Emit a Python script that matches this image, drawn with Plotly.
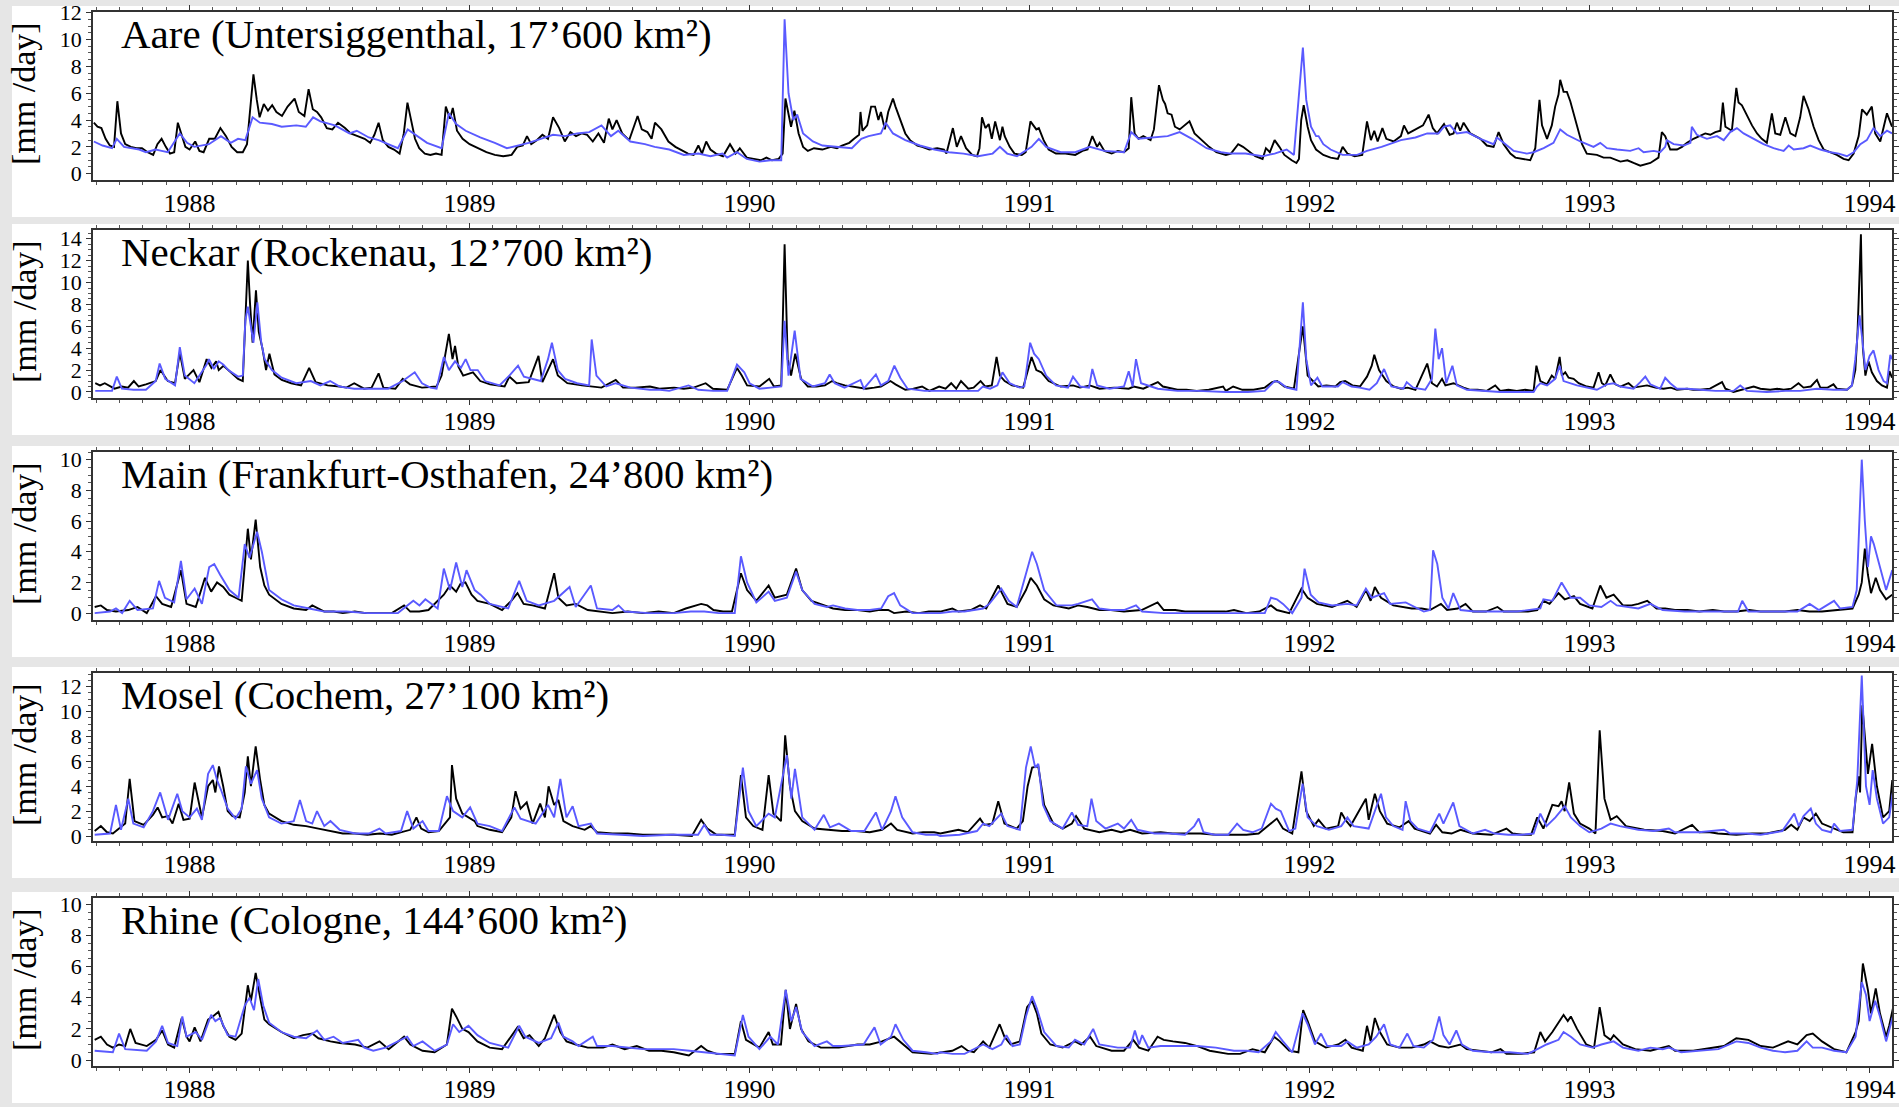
import plotly.graph_objects as go

# ---------------- data (decimal year, mm/day) ----------------
aare_obs = [(1987.658,3.8),(1987.671,3.5),(1987.685,3.4),(1987.700,2.6),(1987.715,2.1),(1987.730,2.0),(1987.742,5.4),(1987.755,3.0),(1987.770,2.2),(1987.790,2.0),(1987.810,1.9),(1987.830,1.9),(1987.850,1.6),(1987.870,1.4),(1987.885,2.2),(1987.900,2.6),(1987.915,2.0),(1987.930,1.5),(1987.945,1.6),(1987.958,3.8),(1987.970,3.0),(1987.985,2.0),(1988.000,1.8),(1988.020,2.4),(1988.035,1.7),(1988.050,1.6),(1988.070,2.6),(1988.090,2.6),(1988.110,3.4),(1988.130,2.8),(1988.150,2.0),(1988.170,1.6),(1988.190,1.6),(1988.205,2.2),(1988.215,4.5),(1988.228,7.4),(1988.240,5.5),(1988.250,4.2),(1988.265,5.2),(1988.280,4.7),(1988.295,5.1),(1988.310,4.6),(1988.330,4.3),(1988.350,5.0),(1988.375,5.6),(1988.390,4.6),(1988.410,4.3),(1988.425,6.3),(1988.440,4.8),(1988.455,4.6),(1988.470,4.2),(1988.490,3.4),(1988.510,3.3),(1988.530,3.8),(1988.555,3.4),(1988.575,3.0),(1988.600,2.8),(1988.625,2.6),(1988.645,2.3),(1988.660,2.9),(1988.675,3.8),(1988.690,2.5),(1988.710,2.0),(1988.730,1.8),(1988.750,1.5),(1988.765,3.0),(1988.778,5.3),(1988.790,4.0),(1988.805,2.6),(1988.820,1.9),(1988.840,1.5),(1988.860,1.4),(1988.880,1.5),(1988.900,1.4),(1988.915,5.0),(1988.930,4.1),(1988.940,4.9),(1988.955,3.2),(1988.975,2.6),(1989.000,2.2),(1989.030,1.9),(1989.060,1.6),(1989.090,1.4),(1989.120,1.3),(1989.150,1.4),(1989.170,2.0),(1989.190,2.1),(1989.205,2.8),(1989.220,2.2),(1989.240,2.5),(1989.260,2.9),(1989.280,2.6),(1989.298,4.2),(1989.320,3.4),(1989.340,2.4),(1989.360,3.1),(1989.380,2.8),(1989.400,3.0),(1989.420,2.9),(1989.440,2.4),(1989.460,3.0),(1989.480,2.3),(1989.497,4.1),(1989.510,3.3),(1989.525,4.0),(1989.545,3.0),(1989.570,2.5),(1989.585,3.4),(1989.600,4.3),(1989.615,3.3),(1989.635,3.1),(1989.650,2.6),(1989.662,3.8),(1989.685,3.3),(1989.710,2.4),(1989.735,2.0),(1989.760,1.7),(1989.780,1.5),(1989.800,1.4),(1989.817,2.1),(1989.830,1.5),(1989.845,2.4),(1989.860,1.8),(1989.880,1.5),(1989.905,1.3),(1989.930,2.2),(1989.950,1.5),(1989.965,1.9),(1989.990,1.2),(1990.017,1.1),(1990.040,1.0),(1990.060,1.2),(1990.080,1.0),(1990.104,1.1),(1990.118,1.5),(1990.128,5.6),(1990.139,4.5),(1990.148,3.5),(1990.160,4.7),(1990.175,3.0),(1990.191,2.0),(1990.208,1.7),(1990.230,1.9),(1990.260,1.8),(1990.290,2.0),(1990.312,1.9),(1990.330,2.1),(1990.356,2.3),(1990.373,2.6),(1990.391,2.9),(1990.396,4.6),(1990.403,3.2),(1990.420,3.6),(1990.434,5.0),(1990.448,5.0),(1990.460,4.0),(1990.469,4.6),(1990.483,3.3),(1990.495,4.6),(1990.512,5.6),(1990.521,5.0),(1990.538,4.0),(1990.556,3.0),(1990.573,2.5),(1990.599,2.1),(1990.616,2.0),(1990.642,1.8),(1990.670,1.9),(1990.694,1.8),(1990.703,1.5),(1990.726,3.4),(1990.740,2.0),(1990.755,2.8),(1990.773,1.9),(1990.795,1.4),(1990.812,1.3),(1990.821,1.9),(1990.830,4.2),(1990.842,3.4),(1990.854,3.7),(1990.865,2.6),(1990.877,3.9),(1990.894,2.5),(1990.903,3.5),(1990.911,2.8),(1990.929,2.0),(1990.946,1.5),(1990.972,1.4),(1990.986,1.6),(1991.003,3.9),(1991.024,3.3),(1991.033,3.4),(1991.050,2.5),(1991.068,1.8),(1991.094,1.5),(1991.128,1.5),(1991.163,1.4),(1991.189,1.7),(1991.207,1.8),(1991.224,2.8),(1991.241,2.0),(1991.250,2.3),(1991.267,1.7),(1991.293,1.5),(1991.315,1.7),(1991.337,1.6),(1991.354,1.9),(1991.363,5.7),(1991.375,3.0),(1991.389,2.6),(1991.406,2.8),(1991.432,2.5),(1991.444,3.3),(1991.462,6.6),(1991.476,5.5),(1991.484,5.2),(1991.493,4.5),(1991.507,4.4),(1991.519,3.5),(1991.536,3.3),(1991.554,3.6),(1991.571,3.9),(1991.589,3.0),(1991.615,2.5),(1991.641,2.0),(1991.667,1.6),(1991.701,1.4),(1991.719,1.5),(1991.745,2.2),(1991.762,2.0),(1991.788,1.6),(1991.806,1.3),(1991.832,1.1),(1991.844,1.9),(1991.858,1.6),(1991.875,2.5),(1991.892,2.0),(1991.910,1.4),(1991.936,1.0),(1991.953,0.8),(1991.962,1.1),(1991.970,4.0),(1991.979,5.1),(1991.993,3.5),(1992.005,2.5),(1992.023,1.8),(1992.049,1.4),(1992.075,1.2),(1992.101,1.1),(1992.118,2.0),(1992.135,1.5),(1992.161,1.3),(1992.188,1.4),(1992.205,3.9),(1992.219,2.5),(1992.231,3.2),(1992.243,2.4),(1992.260,3.4),(1992.274,2.6),(1992.300,2.4),(1992.326,2.8),(1992.337,3.6),(1992.352,3.0),(1992.378,3.3),(1992.405,3.6),(1992.425,4.4),(1992.440,3.4),(1992.455,3.0),(1992.480,3.7),(1992.500,2.9),(1992.514,3.0),(1992.526,3.8),(1992.538,3.2),(1992.550,3.8),(1992.574,3.0),(1992.610,2.6),(1992.633,2.1),(1992.657,2.0),(1992.675,3.1),(1992.693,2.2),(1992.717,1.5),(1992.735,1.2),(1992.764,1.1),(1992.788,1.0),(1992.806,1.9),(1992.821,5.5),(1992.830,3.6),(1992.848,2.6),(1992.865,3.6),(1992.877,5.0),(1992.889,5.9),(1992.895,7.0),(1992.907,6.1),(1992.919,6.1),(1992.931,5.4),(1992.943,4.5),(1992.955,3.4),(1992.973,2.2),(1992.990,1.5),(1993.026,1.4),(1993.050,1.2),(1993.074,1.2),(1993.110,0.9),(1993.135,1.0),(1993.157,0.8),(1993.181,0.6),(1993.217,0.8),(1993.246,1.2),(1993.258,3.1),(1993.270,2.8),(1993.288,1.8),(1993.312,1.8),(1993.330,2.0),(1993.348,2.3),(1993.371,2.6),(1993.395,2.8),(1993.413,3.0),(1993.431,2.9),(1993.449,3.1),(1993.467,3.2),(1993.476,5.3),(1993.485,3.5),(1993.508,3.2),(1993.524,6.4),(1993.532,5.3),(1993.544,5.1),(1993.562,4.3),(1993.580,3.6),(1993.598,3.0),(1993.615,2.6),(1993.633,2.3),(1993.651,4.5),(1993.663,3.0),(1993.681,2.9),(1993.699,4.2),(1993.717,3.0),(1993.735,2.8),(1993.752,4.2),(1993.764,5.8),(1993.782,4.8),(1993.800,3.5),(1993.818,2.5),(1993.836,1.8),(1993.860,1.6),(1993.883,1.4),(1993.907,1.1),(1993.925,1.0),(1993.943,1.5),(1993.961,2.8),(1993.973,4.8),(1993.990,4.4),(1994.008,5.0),(1994.020,3.0),(1994.038,2.4),(1994.062,4.5),(1994.080,3.5)]

aare_sim = [(1987.658,2.4),(1987.689,2.1),(1987.723,1.9),(1987.740,2.6),(1987.766,2.0),(1987.792,1.9),(1987.820,1.8),(1987.844,1.6),(1987.879,1.8),(1987.900,1.7),(1987.922,1.6),(1987.965,3.0),(1987.991,2.3),(1988.017,2.0),(1988.045,2.1),(1988.069,2.2),(1988.112,2.8),(1988.147,2.3),(1988.173,2.6),(1988.199,2.5),(1988.225,4.2),(1988.251,3.8),(1988.294,3.7),(1988.329,3.5),(1988.381,3.6),(1988.415,3.5),(1988.441,4.2),(1988.467,3.9),(1988.519,3.6),(1988.571,3.0),(1988.597,3.2),(1988.640,2.7),(1988.675,2.5),(1988.709,2.2),(1988.744,1.9),(1988.779,3.3),(1988.813,2.8),(1988.848,2.3),(1988.900,1.9),(1988.926,4.5),(1988.952,3.7),(1988.986,3.2),(1989.038,2.7),(1989.090,2.3),(1989.133,1.9),(1989.176,2.1),(1989.211,2.3),(1989.254,2.6),(1989.298,2.9),(1989.341,2.8),(1989.384,3.0),(1989.427,3.1),(1989.471,3.6),(1989.505,2.8),(1989.531,3.2),(1989.574,2.4),(1989.626,2.2),(1989.661,2.0),(1989.713,1.8),(1989.765,1.4),(1989.817,1.5),(1989.860,1.3),(1989.903,1.5),(1989.920,1.2),(1989.955,1.6),(1989.990,1.1),(1990.035,0.9),(1990.075,1.0),(1990.113,1.0),(1990.125,11.5),(1990.139,6.0),(1990.156,4.0),(1990.170,4.4),(1990.191,3.0),(1990.226,2.4),(1990.260,2.1),(1990.312,2.0),(1990.365,1.9),(1990.399,2.6),(1990.425,2.8),(1990.469,3.0),(1990.486,3.8),(1990.512,3.0),(1990.556,2.5),(1990.608,2.1),(1990.660,1.8),(1990.712,1.6),(1990.764,1.5),(1990.816,1.3),(1990.868,1.5),(1990.894,2.0),(1990.920,1.5),(1990.955,1.3),(1991.007,2.0),(1991.033,2.6),(1991.059,2.0),(1991.111,1.6),(1991.163,1.6),(1991.215,2.0),(1991.267,1.7),(1991.337,1.6),(1991.363,3.1),(1991.389,2.6),(1991.441,2.7),(1991.493,2.8),(1991.536,3.1),(1991.580,2.6),(1991.632,1.9),(1991.684,1.6),(1991.719,1.5),(1991.771,1.5),(1991.832,1.3),(1991.875,1.5),(1991.918,1.8),(1991.944,1.4),(1991.976,9.4),(1991.988,5.5),(1992.005,3.5),(1992.023,2.8),(1992.032,2.8),(1992.049,2.2),(1992.075,1.8),(1992.118,1.4),(1992.170,1.4),(1992.205,1.7),(1992.257,2.0),(1992.326,2.5),(1992.378,2.7),(1992.420,3.0),(1992.460,3.0),(1992.480,3.5),(1992.502,3.6),(1992.526,3.0),(1992.562,3.1),(1992.610,2.6),(1992.657,2.2),(1992.669,2.7),(1992.693,2.3),(1992.729,1.7),(1992.776,1.5),(1992.800,1.6),(1992.836,1.9),(1992.871,2.3),(1992.895,3.3),(1992.919,2.9),(1992.967,2.4),(1993.014,2.0),(1993.038,2.3),(1993.062,1.9),(1993.098,1.8),(1993.145,1.7),(1993.175,1.9),(1993.193,1.6),(1993.229,1.7),(1993.252,1.6),(1993.270,2.0),(1993.276,2.5),(1993.300,2.2),(1993.336,2.1),(1993.360,2.3),(1993.365,3.5),(1993.383,2.9),(1993.419,2.6),(1993.455,2.8),(1993.479,2.5),(1993.502,3.1),(1993.526,3.4),(1993.550,3.0),(1993.586,2.6),(1993.621,2.2),(1993.657,1.9),(1993.693,1.7),(1993.711,2.1),(1993.729,1.8),(1993.764,1.9),(1993.788,2.1),(1993.824,1.8),(1993.860,1.6),(1993.890,1.5),(1993.919,1.3),(1993.943,1.6),(1993.967,2.2),(1993.990,2.5),(1994.014,3.4),(1994.038,2.8),(1994.062,3.2),(1994.080,3.0)]

neckar_obs = [(1987.663,0.8),(1987.680,0.6),(1987.697,0.8),(1987.732,0.3),(1987.758,0.5),(1987.780,0.4),(1987.801,1.0),(1987.818,0.5),(1987.844,0.7),(1987.879,1.0),(1987.896,2.0),(1987.922,1.0),(1987.948,0.8),(1987.965,3.6),(1987.983,1.2),(1988.014,2.0),(1988.035,0.9),(1988.061,3.0),(1988.078,2.2),(1988.095,2.8),(1988.104,2.0),(1988.121,2.4),(1988.147,1.8),(1988.173,1.2),(1988.190,1.0),(1988.199,7.0),(1988.208,12.0),(1988.216,8.0),(1988.225,4.5),(1988.237,9.3),(1988.247,5.5),(1988.260,4.0),(1988.273,2.0),(1988.285,3.5),(1988.303,1.6),(1988.329,1.1),(1988.363,0.8),(1988.398,0.6),(1988.427,2.2),(1988.450,0.9),(1988.493,0.6),(1988.536,0.5),(1988.560,0.4),(1988.588,0.8),(1988.623,0.3),(1988.650,0.4),(1988.675,1.7),(1988.692,0.4),(1988.735,0.3),(1988.761,1.2),(1988.787,0.7),(1988.830,0.4),(1988.882,0.5),(1988.900,1.5),(1988.926,5.3),(1988.939,3.0),(1988.948,4.2),(1988.960,2.3),(1988.977,1.5),(1989.012,1.8),(1989.038,1.0),(1989.073,0.7),(1989.100,0.6),(1989.125,0.5),(1989.142,1.4),(1989.168,0.8),(1989.211,0.9),(1989.246,3.3),(1989.260,0.9),(1989.289,2.5),(1989.298,3.0),(1989.315,1.5),(1989.349,0.8),(1989.401,0.6),(1989.440,0.5),(1989.471,0.4),(1989.522,1.1),(1989.548,0.4),(1989.592,0.4),(1989.644,0.5),(1989.678,0.3),(1989.730,0.4),(1989.765,0.3),(1989.800,0.4),(1989.843,0.8),(1989.869,0.3),(1989.920,0.2),(1989.955,2.2),(1989.972,1.5),(1989.991,0.6),(1990.035,0.5),(1990.070,1.2),(1990.087,0.5),(1990.113,0.6),(1990.125,13.5),(1990.136,3.0),(1990.148,1.5),(1990.163,3.5),(1990.184,1.2),(1990.208,0.5),(1990.240,0.5),(1990.269,0.6),(1990.295,1.0),(1990.312,0.8),(1990.340,0.6),(1990.365,0.5),(1990.390,0.4),(1990.416,0.3),(1990.445,0.4),(1990.469,0.5),(1990.503,1.0),(1990.521,0.7),(1990.556,0.2),(1990.585,0.3),(1990.616,0.5),(1990.642,0.1),(1990.677,0.5),(1990.700,0.3),(1990.720,0.8),(1990.738,0.3),(1990.755,1.0),(1990.781,0.3),(1990.800,0.4),(1990.825,1.0),(1990.842,0.5),(1990.865,0.6),(1990.882,3.2),(1990.894,1.5),(1990.911,1.0),(1990.937,0.6),(1990.977,0.4),(1990.998,2.5),(1991.007,3.2),(1991.024,2.0),(1991.042,1.8),(1991.068,1.0),(1991.111,0.5),(1991.155,0.6),(1991.180,0.4),(1991.215,0.6),(1991.250,0.3),(1991.302,0.4),(1991.354,0.3),(1991.372,0.5),(1991.406,0.3),(1991.458,0.9),(1991.476,0.5),(1991.528,0.2),(1991.560,0.2),(1991.597,0.1),(1991.640,0.2),(1991.691,0.5),(1991.701,0.1),(1991.727,0.5),(1991.760,0.2),(1991.800,0.2),(1991.840,0.4),(1991.866,0.9),(1991.884,1.0),(1991.910,0.5),(1991.944,0.3),(1991.976,6.0),(1991.993,1.5),(1992.031,0.5),(1992.060,0.6),(1992.092,0.5),(1992.109,0.9),(1992.127,1.0),(1992.153,0.6),(1992.180,0.5),(1992.205,1.4),(1992.222,2.4),(1992.231,3.4),(1992.248,2.0),(1992.274,1.0),(1992.300,0.5),(1992.326,0.3),(1992.350,0.4),(1992.378,0.2),(1992.420,2.6),(1992.437,0.8),(1992.455,0.5),(1992.473,1.2),(1992.485,0.6),(1992.514,0.8),(1992.550,0.4),(1992.574,0.2),(1992.600,0.2),(1992.633,0.1),(1992.663,0.6),(1992.681,0.1),(1992.710,0.2),(1992.740,0.1),(1992.770,0.2),(1992.800,0.1),(1992.810,2.4),(1992.824,1.0),(1992.848,0.7),(1992.865,1.5),(1992.877,1.2),(1992.893,3.2),(1992.901,1.5),(1992.913,1.8),(1992.925,1.3),(1992.943,1.2),(1992.961,0.8),(1992.990,0.5),(1993.014,0.4),(1993.032,1.8),(1993.044,0.8),(1993.056,0.6),(1993.074,1.6),(1993.092,0.7),(1993.110,0.5),(1993.139,0.8),(1993.157,0.4),(1993.180,0.5),(1993.205,0.6),(1993.235,0.4),(1993.264,0.3),(1993.290,0.4),(1993.312,0.2),(1993.348,0.3),(1993.370,0.2),(1993.395,0.2),(1993.430,0.3),(1993.473,0.9),(1993.485,0.3),(1993.514,0.0),(1993.540,0.2),(1993.568,0.4),(1993.586,0.5),(1993.610,0.3),(1993.645,0.2),(1993.670,0.3),(1993.693,0.2),(1993.720,0.3),(1993.746,0.8),(1993.764,0.4),(1993.790,0.5),(1993.812,1.1),(1993.824,0.4),(1993.850,0.4),(1993.871,0.7),(1993.883,0.3),(1993.919,0.2),(1993.937,0.6),(1993.949,2.0),(1993.957,5.5),(1993.969,14.4),(1993.976,4.0),(1993.985,1.5),(1993.996,2.8),(1994.008,1.8),(1994.026,1.0),(1994.044,0.6),(1994.062,0.4),(1994.071,1.9),(1994.080,1.3)]

neckar_sim = [(1987.663,0.1),(1987.723,0.1),(1987.740,1.4),(1987.758,0.3),(1987.800,0.2),(1987.844,0.2),(1987.879,1.0),(1987.893,2.6),(1987.913,1.2),(1987.948,0.6),(1987.965,4.1),(1987.983,1.5),(1988.017,0.8),(1988.061,2.5),(1988.069,3.0),(1988.087,2.1),(1988.104,2.8),(1988.121,2.5),(1988.138,2.0),(1988.173,1.4),(1988.190,1.5),(1988.199,6.5),(1988.208,7.8),(1988.220,6.0),(1988.228,4.5),(1988.242,8.2),(1988.256,4.5),(1988.268,3.0),(1988.294,2.0),(1988.329,1.3),(1988.381,0.8),(1988.433,1.0),(1988.467,0.6),(1988.502,1.0),(1988.536,0.5),(1988.560,0.4),(1988.588,0.3),(1988.620,0.3),(1988.657,0.3),(1988.709,0.3),(1988.761,1.0),(1988.804,1.8),(1988.830,0.8),(1988.860,0.4),(1988.882,0.3),(1988.908,3.2),(1988.926,2.0),(1988.948,2.8),(1988.969,2.2),(1988.986,3.0),(1989.003,2.0),(1989.029,2.0),(1989.055,1.0),(1989.107,0.6),(1989.142,1.5),(1989.173,2.4),(1989.194,1.4),(1989.228,1.2),(1989.254,1.0),(1989.280,3.0),(1989.294,4.5),(1989.315,2.0),(1989.341,1.2),(1989.384,0.8),(1989.427,0.6),(1989.436,4.8),(1989.453,1.5),(1989.488,0.5),(1989.522,0.8),(1989.574,0.4),(1989.610,0.3),(1989.644,0.2),(1989.680,0.2),(1989.713,0.1),(1989.782,0.6),(1989.817,0.2),(1989.870,0.1),(1989.920,0.1),(1989.955,2.5),(1989.981,1.8),(1990.000,0.8),(1990.035,0.3),(1990.075,0.4),(1990.113,0.5),(1990.125,6.5),(1990.139,1.5),(1990.161,5.6),(1990.182,1.2),(1990.226,0.5),(1990.269,0.8),(1990.286,1.6),(1990.304,0.8),(1990.339,0.4),(1990.396,1.1),(1990.408,0.3),(1990.451,1.6),(1990.469,0.6),(1990.495,1.0),(1990.517,2.4),(1990.538,1.3),(1990.564,0.3),(1990.625,0.1),(1990.670,0.1),(1990.712,0.1),(1990.760,0.1),(1990.816,0.1),(1990.833,0.5),(1990.859,0.3),(1990.885,0.6),(1990.903,1.8),(1990.929,0.8),(1990.964,0.4),(1990.981,0.5),(1991.002,4.5),(1991.016,3.5),(1991.033,3.0),(1991.059,1.5),(1991.094,0.6),(1991.137,0.4),(1991.155,1.4),(1991.181,0.5),(1991.212,0.4),(1991.224,2.1),(1991.241,0.6),(1991.285,0.3),(1991.337,0.5),(1991.354,1.9),(1991.368,0.5),(1991.380,3.0),(1991.398,0.8),(1991.458,0.3),(1991.528,0.1),(1991.600,0.1),(1991.701,0.0),(1991.780,0.0),(1991.840,0.1),(1991.875,1.0),(1991.892,0.9),(1991.918,0.4),(1991.953,0.2),(1991.976,8.2),(1991.988,3.0),(1992.005,0.6),(1992.028,1.3),(1992.045,0.5),(1992.101,0.5),(1992.118,0.9),(1992.150,0.5),(1992.179,0.4),(1992.214,0.2),(1992.240,0.8),(1992.266,2.1),(1992.292,0.5),(1992.335,0.3),(1992.347,0.9),(1992.370,0.4),(1992.413,0.2),(1992.437,1.2),(1992.449,5.8),(1992.461,3.0),(1992.473,4.0),(1992.488,0.8),(1992.510,2.4),(1992.526,0.6),(1992.562,0.2),(1992.620,0.1),(1992.681,0.0),(1992.740,0.0),(1992.800,0.0),(1992.812,0.5),(1992.824,0.8),(1992.848,0.6),(1992.877,1.2),(1992.893,2.4),(1992.907,1.0),(1992.955,0.6),(1992.990,0.4),(1993.026,0.2),(1993.062,0.7),(1993.086,0.8),(1993.110,0.5),(1993.157,0.3),(1993.181,0.9),(1993.199,1.4),(1993.217,0.7),(1993.252,0.3),(1993.270,1.3),(1993.288,0.8),(1993.312,0.3),(1993.350,0.3),(1993.395,0.2),(1993.450,0.1),(1993.514,0.1),(1993.538,0.6),(1993.562,0.1),(1993.633,0.0),(1993.700,0.1),(1993.752,0.1),(1993.812,0.3),(1993.871,0.2),(1993.919,0.2),(1993.937,0.6),(1993.949,3.0),(1993.964,7.0),(1993.973,5.0),(1993.985,2.0),(1994.000,3.3),(1994.014,3.8),(1994.032,2.0),(1994.050,1.0),(1994.062,0.8),(1994.074,3.4),(1994.080,3.0)]

main_obs = [(1987.661,0.4),(1987.683,0.5),(1987.705,0.2),(1987.737,0.1),(1987.781,0.2),(1987.814,0.4),(1987.847,0.0),(1987.880,1.1),(1987.902,0.6),(1987.934,0.4),(1987.969,2.8),(1987.989,0.6),(1988.022,0.4),(1988.055,2.3),(1988.077,1.4),(1988.098,2.0),(1988.120,1.7),(1988.142,1.2),(1988.164,1.0),(1988.186,0.8),(1988.208,5.5),(1988.219,3.5),(1988.236,6.1),(1988.252,3.0),(1988.267,1.8),(1988.284,1.2),(1988.328,0.6),(1988.372,0.3),(1988.416,0.2),(1988.438,0.5),(1988.481,0.1),(1988.515,0.1),(1988.547,0.0),(1988.590,0.1),(1988.630,0.0),(1988.678,0.0),(1988.722,0.0),(1988.766,0.5),(1988.788,0.1),(1988.820,0.1),(1988.853,0.2),(1988.908,1.2),(1988.930,1.8),(1988.952,1.4),(1988.967,1.9),(1988.985,2.0),(1989.007,1.2),(1989.028,0.8),(1989.072,0.6),(1989.116,0.2),(1989.149,0.8),(1989.171,1.3),(1989.193,0.6),(1989.225,0.5),(1989.269,0.3),(1989.302,2.6),(1989.317,1.0),(1989.346,0.5),(1989.379,0.6),(1989.422,0.2),(1989.465,0.1),(1989.510,0.0),(1989.565,0.1),(1989.619,0.0),(1989.675,0.1),(1989.729,0.0),(1989.772,0.3),(1989.827,0.6),(1989.849,0.5),(1989.871,0.2),(1989.905,0.1),(1989.937,0.1),(1989.969,2.6),(1989.991,1.5),(1990.024,0.8),(1990.068,1.8),(1990.090,1.0),(1990.133,1.2),(1990.166,2.9),(1990.188,1.5),(1990.221,0.8),(1990.265,0.5),(1990.298,0.3),(1990.341,0.2),(1990.385,0.2),(1990.429,0.1),(1990.460,0.2),(1990.495,0.2),(1990.516,0.0),(1990.560,0.1),(1990.604,0.0),(1990.640,0.1),(1990.681,0.1),(1990.724,0.3),(1990.746,0.1),(1990.790,0.2),(1990.823,0.5),(1990.845,0.3),(1990.888,1.8),(1990.904,1.2),(1990.921,0.6),(1990.954,0.4),(1990.987,1.5),(1991.004,2.3),(1991.026,1.8),(1991.052,0.9),(1991.085,0.5),(1991.140,0.3),(1991.173,0.5),(1991.206,0.4),(1991.249,0.2),(1991.290,0.2),(1991.337,0.1),(1991.400,0.2),(1991.457,0.7),(1991.479,0.2),(1991.520,0.2),(1991.555,0.1),(1991.600,0.1),(1991.650,0.1),(1991.700,0.1),(1991.730,0.2),(1991.774,0.0),(1991.820,0.1),(1991.862,0.5),(1991.883,0.2),(1991.927,0.0),(1991.971,1.6),(1991.993,1.0),(1992.026,0.6),(1992.080,0.4),(1992.135,0.8),(1992.168,0.4),(1992.201,1.5),(1992.218,0.8),(1992.233,1.7),(1992.255,1.0),(1992.299,0.5),(1992.330,0.4),(1992.365,0.3),(1992.400,0.3),(1992.430,0.2),(1992.469,0.6),(1992.491,0.2),(1992.529,0.3),(1992.557,0.6),(1992.583,0.1),(1992.630,0.1),(1992.671,0.4),(1992.693,0.1),(1992.740,0.1),(1992.780,0.1),(1992.813,0.2),(1992.835,0.8),(1992.857,0.6),(1992.889,1.3),(1992.911,0.9),(1992.944,1.1),(1992.966,0.6),(1993.010,0.3),(1993.038,1.8),(1993.060,1.0),(1993.086,1.2),(1993.119,0.5),(1993.150,0.5),(1993.174,0.6),(1993.206,0.8),(1993.239,0.3),(1993.270,0.3),(1993.305,0.2),(1993.350,0.2),(1993.392,0.1),(1993.440,0.2),(1993.480,0.1),(1993.524,0.1),(1993.570,0.2),(1993.610,0.1),(1993.655,0.1),(1993.698,0.1),(1993.742,0.2),(1993.785,0.1),(1993.830,0.1),(1993.880,0.2),(1993.939,0.3),(1993.961,1.2),(1993.972,2.0),(1993.983,4.2),(1993.994,2.5),(1994.005,1.3),(1994.022,2.3),(1994.037,1.5),(1994.059,0.9),(1994.081,1.2)]

main_sim = [(1987.661,0.0),(1987.716,0.1),(1987.737,0.3),(1987.759,0.0),(1987.786,0.8),(1987.814,0.2),(1987.869,0.3),(1987.891,2.1),(1987.912,1.0),(1987.945,0.7),(1987.969,3.4),(1987.989,0.9),(1988.018,1.6),(1988.044,0.6),(1988.070,3.0),(1988.088,3.2),(1988.109,2.5),(1988.142,1.5),(1988.175,1.0),(1988.197,4.5),(1988.214,3.6),(1988.241,5.3),(1988.258,4.0),(1988.284,1.5),(1988.328,0.9),(1988.372,0.5),(1988.427,0.3),(1988.481,0.1),(1988.560,0.1),(1988.635,0.0),(1988.690,0.0),(1988.744,0.0),(1988.799,0.8),(1988.821,0.5),(1988.842,0.9),(1988.886,0.3),(1988.908,2.9),(1988.930,1.5),(1988.952,3.3),(1988.974,1.7),(1988.989,2.8),(1989.018,1.5),(1989.039,1.2),(1989.072,0.6),(1989.138,0.3),(1989.177,2.1),(1989.204,0.8),(1989.247,0.5),(1989.302,0.8),(1989.357,1.7),(1989.379,0.4),(1989.433,1.8),(1989.455,0.3),(1989.510,0.2),(1989.532,0.5),(1989.554,0.1),(1989.640,0.0),(1989.729,0.0),(1989.790,0.1),(1989.838,0.1),(1989.890,0.0),(1989.947,0.0),(1989.969,3.7),(1989.991,2.0),(1990.024,0.7),(1990.068,1.4),(1990.090,0.8),(1990.133,1.0),(1990.166,2.7),(1990.188,1.5),(1990.232,0.6),(1990.276,0.4),(1990.298,0.5),(1990.341,0.3),(1990.385,0.2),(1990.429,0.2),(1990.470,0.3),(1990.495,1.1),(1990.516,1.3),(1990.538,0.5),(1990.582,0.0),(1990.630,0.0),(1990.681,0.0),(1990.725,0.1),(1990.768,0.1),(1990.834,0.3),(1990.856,0.6),(1990.899,1.6),(1990.926,0.8),(1990.954,0.4),(1990.987,2.5),(1991.009,4.0),(1991.026,3.2),(1991.052,1.5),(1991.096,0.5),(1991.151,0.5),(1991.173,0.6),(1991.223,0.9),(1991.249,0.3),(1991.290,0.2),(1991.337,0.2),(1991.380,0.5),(1991.402,0.1),(1991.480,0.0),(1991.555,0.0),(1991.700,0.0),(1991.840,0.0),(1991.862,1.0),(1991.883,0.9),(1991.905,0.6),(1991.938,0.0),(1991.971,1.0),(1991.982,2.9),(1992.004,1.2),(1992.032,0.7),(1992.080,0.5),(1992.135,0.6),(1992.168,0.5),(1992.201,1.6),(1992.222,1.0),(1992.266,1.3),(1992.288,0.6),(1992.343,0.7),(1992.408,0.1),(1992.430,0.2),(1992.441,4.1),(1992.456,3.2),(1992.474,1.0),(1992.496,0.3),(1992.513,1.3),(1992.539,0.2),(1992.590,0.1),(1992.649,0.1),(1992.740,0.1),(1992.824,0.3),(1992.835,0.9),(1992.867,0.8),(1992.900,2.0),(1992.933,1.0),(1992.966,1.0),(1992.999,0.5),(1993.042,0.4),(1993.075,0.8),(1993.097,0.5),(1993.174,0.3),(1993.217,0.6),(1993.261,0.2),(1993.340,0.1),(1993.414,0.1),(1993.480,0.1),(1993.530,0.1),(1993.545,0.8),(1993.567,0.1),(1993.650,0.1),(1993.742,0.1),(1993.786,0.6),(1993.819,0.2),(1993.873,0.8),(1993.895,0.3),(1993.939,0.4),(1993.954,1.5),(1993.972,10.0),(1993.983,6.0),(1993.994,3.0),(1994.005,5.0),(1994.015,4.5),(1994.037,3.0),(1994.059,1.5),(1994.081,2.8)]

mosel_obs = [(1987.661,0.4),(1987.683,0.8),(1987.705,0.3),(1987.726,0.2),(1987.770,1.0),(1987.786,4.6),(1987.803,1.2),(1987.836,0.9),(1987.869,1.7),(1987.886,2.3),(1987.902,1.5),(1987.923,1.6),(1987.939,1.0),(1987.961,2.6),(1987.978,1.3),(1988.000,1.4),(1988.018,4.3),(1988.033,2.5),(1988.044,1.5),(1988.066,4.0),(1988.083,4.5),(1988.092,3.5),(1988.105,5.6),(1988.120,4.0),(1988.136,2.0),(1988.153,1.6),(1988.179,1.5),(1988.197,3.5),(1988.208,6.4),(1988.219,4.0),(1988.236,7.2),(1988.252,4.5),(1988.267,2.5),(1988.284,1.8),(1988.328,1.2),(1988.372,0.9),(1988.416,0.8),(1988.460,0.6),(1988.503,0.4),(1988.547,0.2),(1988.590,0.2),(1988.635,0.1),(1988.680,0.2),(1988.722,0.1),(1988.788,0.5),(1988.810,1.5),(1988.827,0.6),(1988.853,0.3),(1988.890,0.4),(1988.930,1.5),(1988.937,5.7),(1988.952,3.0),(1988.974,1.8),(1989.018,1.2),(1989.028,0.8),(1989.072,0.5),(1989.116,0.3),(1989.149,1.5),(1989.164,3.6),(1989.182,2.2),(1989.204,2.7),(1989.225,1.0),(1989.252,2.6),(1989.269,1.5),(1989.282,4.0),(1989.302,2.5),(1989.317,2.9),(1989.335,1.2),(1989.368,0.8),(1989.411,0.5),(1989.433,0.8),(1989.455,0.3),(1989.510,0.2),(1989.565,0.2),(1989.619,0.1),(1989.675,0.1),(1989.729,0.1),(1989.794,0.0),(1989.827,1.3),(1989.849,0.6),(1989.882,0.1),(1989.947,0.1),(1989.969,4.9),(1989.987,1.5),(1990.013,0.8),(1990.046,0.5),(1990.068,4.9),(1990.085,1.8),(1990.112,1.2),(1990.127,8.1),(1990.144,4.0),(1990.162,2.0),(1990.188,1.2),(1990.232,0.6),(1990.276,0.5),(1990.330,0.4),(1990.380,0.4),(1990.429,0.3),(1990.473,0.5),(1990.505,1.0),(1990.527,0.5),(1990.582,0.2),(1990.620,0.3),(1990.659,0.3),(1990.681,0.2),(1990.746,0.5),(1990.779,0.3),(1990.823,1.4),(1990.838,0.9),(1990.867,1.0),(1990.888,2.8),(1990.910,1.0),(1990.954,0.6),(1990.976,1.2),(1990.993,4.0),(1991.009,5.5),(1991.031,5.6),(1991.052,2.5),(1991.085,1.0),(1991.118,0.6),(1991.151,1.0),(1991.166,1.6),(1991.195,0.6),(1991.249,0.3),(1991.293,0.5),(1991.326,0.3),(1991.359,0.5),(1991.402,0.2),(1991.468,0.3),(1991.510,0.2),(1991.555,0.2),(1991.610,0.2),(1991.665,0.1),(1991.730,0.1),(1991.775,0.1),(1991.818,0.2),(1991.862,1.0),(1991.883,1.4),(1991.905,0.6),(1991.938,0.2),(1991.971,5.2),(1991.988,2.0),(1992.015,0.8),(1992.032,1.3),(1992.058,0.6),(1992.102,0.8),(1992.113,1.9),(1992.128,1.3),(1992.146,0.8),(1992.201,3.0),(1992.211,1.3),(1992.233,3.4),(1992.251,2.0),(1992.277,1.0),(1992.321,0.7),(1992.354,1.2),(1992.375,0.6),(1992.430,0.2),(1992.452,0.9),(1992.474,0.3),(1992.507,0.2),(1992.539,0.5),(1992.583,0.2),(1992.649,0.1),(1992.703,0.6),(1992.725,0.2),(1992.760,0.1),(1992.791,0.1),(1992.813,1.5),(1992.835,0.6),(1992.867,2.5),(1992.889,2.4),(1992.900,2.8),(1992.911,2.0),(1992.927,4.3),(1992.944,1.8),(1992.966,1.0),(1992.999,0.6),(1993.021,0.2),(1993.036,8.5),(1993.053,3.0),(1993.075,1.3),(1993.097,1.6),(1993.130,0.8),(1993.195,0.5),(1993.261,0.4),(1993.305,0.2),(1993.366,0.9),(1993.392,0.3),(1993.430,0.3),(1993.458,0.2),(1993.524,0.1),(1993.580,0.2),(1993.633,0.2),(1993.698,0.5),(1993.720,0.9),(1993.742,0.5),(1993.764,1.5),(1993.786,1.2),(1993.808,1.8),(1993.830,1.0),(1993.873,0.6),(1993.906,0.3),(1993.939,0.3),(1993.950,3.0),(1993.961,4.8),(1993.966,3.5),(1993.974,10.5),(1993.994,5.0),(1994.009,7.4),(1994.026,4.0),(1994.048,1.5),(1994.070,2.0),(1994.081,4.5)]

mosel_sim = [(1987.661,0.1),(1987.716,0.2),(1987.737,2.5),(1987.755,0.5),(1987.781,3.0),(1987.799,1.0),(1987.836,0.7),(1987.869,2.0),(1987.895,3.5),(1987.923,1.3),(1987.956,3.4),(1987.974,2.0),(1988.000,1.5),(1988.026,2.2),(1988.044,1.3),(1988.066,5.0),(1988.083,5.7),(1988.098,4.5),(1988.114,3.6),(1988.136,2.2),(1988.164,1.4),(1988.186,2.2),(1988.201,5.6),(1988.219,4.2),(1988.241,5.3),(1988.258,3.0),(1988.284,1.5),(1988.328,1.0),(1988.372,1.2),(1988.394,2.9),(1988.416,1.2),(1988.438,1.0),(1988.455,2.0),(1988.481,0.8),(1988.503,1.2),(1988.536,0.5),(1988.591,0.2),(1988.640,0.2),(1988.678,0.6),(1988.700,0.2),(1988.755,0.4),(1988.777,2.0),(1988.799,0.6),(1988.832,1.2),(1988.853,0.4),(1988.890,0.4),(1988.919,3.2),(1988.941,2.0),(1988.974,1.5),(1989.002,2.3),(1989.028,1.0),(1989.072,0.8),(1989.116,0.4),(1989.160,2.3),(1989.182,1.4),(1989.236,1.0),(1989.280,2.5),(1989.302,1.5),(1989.324,4.6),(1989.346,1.5),(1989.368,2.4),(1989.389,0.8),(1989.433,1.0),(1989.455,0.2),(1989.540,0.1),(1989.619,0.0),(1989.720,0.1),(1989.816,0.1),(1989.838,0.9),(1989.860,0.1),(1989.900,0.1),(1989.947,0.0),(1989.976,5.5),(1989.996,2.0),(1990.024,0.8),(1990.068,1.8),(1990.090,1.5),(1990.133,6.5),(1990.149,3.0),(1990.162,5.4),(1990.188,1.5),(1990.232,0.5),(1990.265,1.7),(1990.287,0.7),(1990.319,1.0),(1990.363,0.4),(1990.410,0.4),(1990.451,1.9),(1990.473,0.5),(1990.505,2.0),(1990.521,3.2),(1990.545,1.5),(1990.582,0.3),(1990.630,0.1),(1990.670,0.1),(1990.681,0.0),(1990.750,0.1),(1990.812,0.4),(1990.834,1.0),(1990.856,0.8),(1990.899,1.8),(1990.921,0.8),(1990.965,0.5),(1990.987,5.5),(1991.004,7.2),(1991.020,5.5),(1991.031,5.8),(1991.048,2.5),(1991.074,1.2),(1991.118,0.6),(1991.151,1.9),(1991.173,0.9),(1991.206,0.8),(1991.221,3.0),(1991.238,1.2),(1991.271,0.6),(1991.315,1.0),(1991.337,0.6),(1991.363,1.3),(1991.385,0.5),(1991.446,0.2),(1991.500,0.2),(1991.555,0.1),(1991.588,0.8),(1991.604,1.4),(1991.621,0.3),(1991.660,0.1),(1991.709,0.1),(1991.741,1.0),(1991.763,0.5),(1991.796,0.3),(1991.829,0.6),(1991.862,2.6),(1991.879,2.2),(1991.897,2.0),(1991.927,0.4),(1991.949,0.6),(1991.975,4.2),(1991.993,1.5),(1992.026,0.8),(1992.069,0.5),(1992.113,0.8),(1992.135,1.5),(1992.157,0.8),(1992.211,0.6),(1992.255,3.4),(1992.273,1.5),(1992.299,0.8),(1992.332,0.5),(1992.343,2.8),(1992.360,1.2),(1992.386,0.6),(1992.430,0.3),(1992.463,1.8),(1992.478,1.0),(1992.513,2.7),(1992.535,0.8),(1992.583,0.2),(1992.627,0.5),(1992.660,0.2),(1992.710,0.1),(1992.758,0.1),(1992.800,0.2),(1992.824,1.8),(1992.846,0.8),(1992.878,1.5),(1992.911,2.4),(1992.933,1.5),(1992.966,0.8),(1992.999,0.3),(1993.042,0.6),(1993.075,1.0),(1993.108,0.8),(1993.174,0.5),(1993.230,0.4),(1993.283,0.6),(1993.305,0.3),(1993.390,0.3),(1993.480,0.5),(1993.502,0.2),(1993.560,0.2),(1993.611,0.1),(1993.688,0.4),(1993.731,1.8),(1993.747,0.8),(1993.764,1.6),(1993.790,2.2),(1993.808,1.0),(1993.830,0.5),(1993.862,0.3),(1993.873,1.0),(1993.895,0.4),(1993.939,0.5),(1993.956,4.5),(1993.972,12.9),(1993.987,4.0),(1994.000,2.5),(1994.011,5.3),(1994.026,3.0),(1994.048,1.0),(1994.070,1.5),(1994.083,3.5)]

rhine_obs = [(1987.661,1.3),(1987.683,1.5),(1987.705,1.0),(1987.726,0.8),(1987.748,1.0),(1987.770,0.9),(1987.788,2.0),(1987.807,1.1),(1987.847,0.9),(1987.880,1.3),(1987.902,1.9),(1987.923,1.0),(1987.945,0.8),(1987.972,2.7),(1987.989,1.5),(1988.000,1.2),(1988.018,2.1),(1988.039,1.2),(1988.066,2.6),(1988.083,2.8),(1988.103,3.1),(1988.120,2.2),(1988.142,1.5),(1988.164,1.3),(1988.186,1.7),(1988.208,4.8),(1988.219,3.8),(1988.236,5.6),(1988.252,4.0),(1988.267,2.6),(1988.284,2.3),(1988.328,1.8),(1988.372,1.4),(1988.405,1.6),(1988.438,1.7),(1988.460,1.4),(1988.503,1.2),(1988.536,1.1),(1988.591,1.0),(1988.635,0.8),(1988.678,1.2),(1988.711,0.7),(1988.766,1.5),(1988.788,1.0),(1988.832,0.6),(1988.875,0.5),(1988.919,1.0),(1988.937,3.3),(1988.952,2.8),(1988.974,2.0),(1988.996,1.8),(1989.028,1.2),(1989.072,0.8),(1989.116,0.7),(1989.171,2.1),(1989.193,1.4),(1989.214,1.6),(1989.247,0.9),(1989.269,1.4),(1989.302,2.9),(1989.324,1.8),(1989.346,1.2),(1989.379,1.0),(1989.422,0.8),(1989.477,0.8),(1989.510,1.0),(1989.554,0.7),(1989.597,0.9),(1989.641,0.6),(1989.685,0.6),(1989.729,0.5),(1989.783,0.3),(1989.827,0.9),(1989.849,0.6),(1989.882,0.4),(1989.947,0.4),(1989.969,2.5),(1989.987,1.3),(1990.035,0.8),(1990.068,1.8),(1990.083,1.0),(1990.112,1.0),(1990.129,4.5),(1990.144,2.0),(1990.166,3.6),(1990.184,2.0),(1990.210,1.2),(1990.254,0.8),(1990.319,0.8),(1990.385,1.0),(1990.429,1.0),(1990.473,1.2),(1990.516,1.5),(1990.549,1.0),(1990.582,0.5),(1990.648,0.4),(1990.681,0.5),(1990.724,0.6),(1990.757,0.9),(1990.779,0.6),(1990.801,0.5),(1990.834,1.2),(1990.856,0.8),(1990.893,2.3),(1990.910,1.5),(1990.932,1.0),(1990.965,1.2),(1990.991,3.4),(1991.009,3.8),(1991.026,3.0),(1991.042,1.7),(1991.074,1.0),(1991.118,0.8),(1991.162,1.2),(1991.184,1.0),(1991.216,1.5),(1991.238,0.9),(1991.293,0.6),(1991.337,0.6),(1991.370,1.3),(1991.391,0.8),(1991.424,0.6),(1991.457,1.5),(1991.479,1.3),(1991.512,1.2),(1991.555,1.1),(1991.599,0.9),(1991.643,0.6),(1991.709,0.4),(1991.752,0.4),(1991.796,0.7),(1991.840,0.5),(1991.873,1.5),(1991.894,1.2),(1991.927,0.6),(1991.960,0.5),(1991.977,3.2),(1991.993,2.5),(1992.019,1.2),(1992.058,0.8),(1992.102,1.0),(1992.128,1.3),(1992.150,0.8),(1992.190,0.6),(1992.205,2.2),(1992.218,1.2),(1992.233,2.7),(1992.251,1.8),(1992.277,1.0),(1992.321,0.8),(1992.365,0.8),(1992.408,1.0),(1992.430,1.2),(1992.463,0.9),(1992.496,0.8),(1992.539,1.0),(1992.561,0.7),(1992.605,0.6),(1992.649,0.5),(1992.682,0.7),(1992.703,0.4),(1992.758,0.4),(1992.802,0.5),(1992.824,1.8),(1992.841,1.2),(1992.867,1.8),(1992.889,2.4),(1992.907,2.9),(1992.922,2.5),(1992.933,2.8),(1992.955,2.0),(1992.988,1.0),(1993.016,0.8),(1993.036,3.4),(1993.053,1.6),(1993.075,1.3),(1993.086,1.6),(1993.119,1.0),(1993.163,0.7),(1993.217,0.6),(1993.283,0.9),(1993.305,0.6),(1993.370,0.6),(1993.436,0.8),(1993.480,0.9),(1993.524,1.4),(1993.567,1.3),(1993.611,0.9),(1993.655,0.8),(1993.709,1.2),(1993.742,1.0),(1993.775,1.6),(1993.797,1.7),(1993.830,1.2),(1993.873,0.7),(1993.917,0.5),(1993.950,1.8),(1993.961,2.5),(1993.976,6.2),(1993.994,4.5),(1994.005,3.0),(1994.022,4.6),(1994.037,3.0),(1994.059,1.5),(1994.070,2.2),(1994.083,3.3)]

rhine_sim = [(1987.661,0.6),(1987.726,0.5),(1987.748,1.7),(1987.770,0.7),(1987.847,0.6),(1987.880,1.2),(1987.902,2.2),(1987.923,1.1),(1987.956,0.9),(1987.974,2.8),(1987.989,1.5),(1988.022,1.8),(1988.044,1.3),(1988.077,2.9),(1988.092,2.5),(1988.109,2.7),(1988.136,1.6),(1988.164,1.5),(1988.197,3.5),(1988.214,4.0),(1988.230,3.2),(1988.245,5.2),(1988.263,3.5),(1988.284,2.4),(1988.328,1.8),(1988.372,1.5),(1988.416,1.4),(1988.455,1.9),(1988.481,1.3),(1988.514,1.5),(1988.547,1.1),(1988.602,1.3),(1988.624,0.8),(1988.656,0.6),(1988.700,0.8),(1988.777,1.5),(1988.799,0.9),(1988.832,1.2),(1988.875,0.6),(1988.919,1.0),(1988.941,2.3),(1988.963,1.8),(1988.996,2.2),(1989.028,1.6),(1989.072,1.1),(1989.138,0.8),(1989.177,2.2),(1989.199,1.5),(1989.247,1.1),(1989.291,1.4),(1989.317,2.4),(1989.335,1.5),(1989.368,1.2),(1989.389,0.9),(1989.440,1.5),(1989.455,0.9),(1989.510,0.9),(1989.565,0.8),(1989.619,0.7),(1989.675,0.7),(1989.729,0.7),(1989.785,0.6),(1989.838,0.5),(1989.890,0.4),(1989.947,0.3),(1989.976,2.9),(1989.996,1.5),(1990.035,0.7),(1990.074,1.5),(1990.101,1.0),(1990.129,4.5),(1990.149,2.5),(1990.166,3.4),(1990.188,1.8),(1990.232,0.9),(1990.276,1.2),(1990.298,0.9),(1990.330,0.9),(1990.407,1.0),(1990.446,2.1),(1990.468,1.0),(1990.505,1.5),(1990.521,2.3),(1990.549,1.3),(1990.582,0.6),(1990.630,0.5),(1990.670,0.4),(1990.681,0.5),(1990.725,0.4),(1990.768,0.4),(1990.834,1.0),(1990.867,0.7),(1990.899,1.0),(1990.917,1.6),(1990.939,0.9),(1990.965,1.0),(1990.987,2.8),(1991.009,4.1),(1991.026,3.3),(1991.052,1.8),(1991.096,0.9),(1991.140,0.8),(1991.162,1.3),(1991.195,1.0),(1991.227,2.0),(1991.249,1.0),(1991.315,0.8),(1991.359,0.8),(1991.376,1.9),(1991.391,1.0),(1991.402,1.6),(1991.424,0.8),(1991.468,0.9),(1991.555,0.9),(1991.599,0.9),(1991.665,0.8),(1991.730,0.6),(1991.775,0.6),(1991.818,0.5),(1991.862,1.2),(1991.879,1.8),(1991.905,1.2),(1991.938,0.5),(1991.975,3.0),(1991.993,2.3),(1992.019,1.0),(1992.041,1.7),(1992.063,0.9),(1992.113,0.9),(1992.135,1.2),(1992.168,0.8),(1992.211,1.0),(1992.238,1.5),(1992.266,2.3),(1992.288,1.0),(1992.321,0.8),(1992.349,1.7),(1992.371,0.9),(1992.408,0.8),(1992.441,1.3),(1992.463,2.8),(1992.478,1.6),(1992.500,1.0),(1992.524,1.9),(1992.544,1.0),(1992.583,0.6),(1992.649,0.5),(1992.714,0.5),(1992.780,0.4),(1992.824,0.8),(1992.846,1.0),(1992.889,1.3),(1992.907,1.8),(1992.933,1.5),(1992.966,1.0),(1993.010,0.8),(1993.042,1.0),(1993.086,1.2),(1993.119,0.8),(1993.174,0.6),(1993.217,0.8),(1993.261,0.7),(1993.283,0.8),(1993.327,0.5),(1993.392,0.6),(1993.460,0.7),(1993.524,1.2),(1993.567,1.1),(1993.611,0.8),(1993.655,0.6),(1993.698,0.5),(1993.742,0.6),(1993.775,1.2),(1993.797,0.8),(1993.830,0.8),(1993.873,0.6),(1993.917,0.5),(1993.950,1.5),(1993.972,5.0),(1993.987,4.2),(1994.000,2.5),(1994.020,3.8),(1994.037,2.8),(1994.059,1.2),(1994.083,2.8)]

titles = ["Aare (Untersiggenthal, 17’600 km²)",
          "Neckar (Rockenau, 12’700 km²)",
          "Main (Frankfurt-Osthafen, 24’800 km²)",
          "Mosel (Cochem, 27’100 km²)",
          "Rhine (Cologne, 144’600 km²)"]
years = [1988, 1989, 1990, 1991, 1992, 1993, 1994]
y_tops = [12, 14, 10, 12, 10]
y_label = "[mm /day]"

observed = [aare_obs, neckar_obs, main_obs, mosel_obs, rhine_obs]
simulated = [aare_sim, neckar_sim, main_sim, mosel_sim, rhine_sim]

# ---------------- layout geometry ----------------
W, H = 1899, 1107
FONT = "Liberation Serif"
OBS_COLOR = "#000000"
SIM_COLOR = "#5a5aff"
BG = "#e6e6e6"
plot_left, plot_right = 93, 1892
plot_tops = [12, 230, 452, 673, 898]
plot_h = 168
y_ranges = [[-0.47, 12.05], [-0.55, 14.8], [-0.45, 10.5], [-0.4, 13.1], [-0.38, 10.4]]
x_range = [1987.655, 1994.08]

def py(p):
    return 1 - p / H

fig = go.Figure()
layout = dict(
    template="none",
    width=W, height=H,
    margin=dict(l=0, r=0, t=0, b=0, pad=0, autoexpand=False),
    paper_bgcolor=BG, plot_bgcolor="white",
    showlegend=False,
    font=dict(family=FONT, color="black"),
    shapes=[], annotations=[],
)

for k in range(5):
    n = "" if k == 0 else str(k + 1)
    top = plot_tops[k]
    # white panel background
    layout["shapes"].append(dict(
        type="rect", xref="paper", yref="paper", layer="below",
        x0=12 / W, x1=1.0, y0=py(top + 205), y1=py(top - 6),
        fillcolor="white", line=dict(width=0)))
    ox, oy = zip(*observed[k])
    sx, sy = zip(*simulated[k])
    fig.add_trace(go.Scatter(x=ox, y=oy, mode="lines", xaxis="x" + n, yaxis="y" + n,
                             line=dict(color=OBS_COLOR, width=1.9), name="observed"))
    fig.add_trace(go.Scatter(x=sx, y=sy, mode="lines", xaxis="x" + n, yaxis="y" + n,
                             line=dict(color=SIM_COLOR, width=1.9), name="simulated"))
    layout["xaxis" + n] = dict(
        domain=[plot_left / W, plot_right / W], anchor="y" + n, automargin=False,
        range=x_range, tickmode="array", tickvals=years, ticktext=[str(y) for y in years],
        ticks="outside", ticklen=5, tickwidth=1.2, tickcolor="#333",
        minor=dict(dtick=1 / 12, tick0=1988, ticks="outside", ticklen=3, tickcolor="#555"),
        showline=True, linecolor="#333", linewidth=1.6, mirror="ticks",
        showgrid=False, zeroline=False, ticklabeloverflow="allow",
        tickfont=dict(family=FONT, size=26, color="black"), ticklabelstandoff=-6)
    layout["yaxis" + n] = dict(
        domain=[py(top + plot_h), py(top)], anchor="x" + n, automargin=False,
        range=y_ranges[k], tickmode="array", tickvals=list(range(0, y_tops[k] + 1, 2)),
        ticks="outside", ticklen=5, tickwidth=1.2, tickcolor="#333",
        minor=dict(dtick=0.5, tick0=0, ticks="outside", ticklen=3, tickcolor="#555"),
        showline=True, linecolor="#333", linewidth=1.6, mirror="ticks",
        showgrid=False, zeroline=False,
        tickfont=dict(family=FONT, size=22, color="black"))
    layout["annotations"].append(dict(
        text=titles[k], xref="paper", yref="paper", x=119 / W, y=py(top + 22),
        xanchor="left", yanchor="middle", showarrow=False,
        font=dict(family=FONT, size=41, color="black")))
    layout["annotations"].append(dict(
        text=y_label, xref="paper", yref="paper", x=24 / W, y=py(top + 82),
        xanchor="center", yanchor="middle", textangle=-90, showarrow=False,
        font=dict(family=FONT, size=34, color="black")))

fig.update_layout(**layout)
fig.write_html("out.html", config={"displayModeBar": False},
               post_script="document.body.style.margin='0px';")
